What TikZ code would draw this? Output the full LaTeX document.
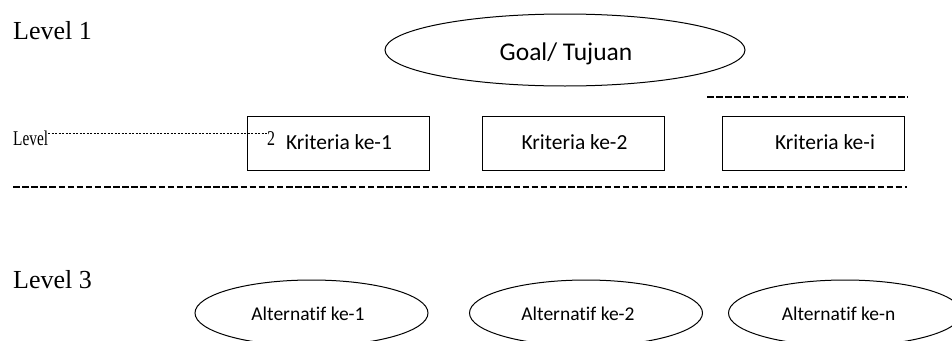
\documentclass[tikz,border=0pt]{standalone}
\usepackage{fontspec}
\usepackage{graphicx}
\setmainfont{Liberation Serif}
\newfontfamily\calib[Ligatures=NoCommon]{Carlito}
\usetikzlibrary{shapes.geometric}
\tikzset{
  lvltext/.style={inner sep=0pt, anchor=base west, font=\fontsize{26}{30}\selectfont},
  critbox/.style={draw, line width=1pt, minimum width=182pt, minimum height=54pt, inner sep=0pt},
  crittext/.style={inner sep=0pt, anchor=base, font=\calib\fontsize{21.5}{24}\selectfont},
  goalell/.style={draw, ellipse, line width=1pt, minimum width=360pt, minimum height=72pt, inner sep=0pt},
  altell/.style={draw, ellipse, line width=1pt, minimum width=233pt, minimum height=66pt, inner sep=0pt},
  alttext/.style={inner sep=0pt, anchor=base, font=\calib\fontsize{19.5}{22}\selectfont},
  bigdash/.style={line width=1.3pt, dash pattern=on 6.5pt off 2.6pt},
  finedash/.style={line width=0.7pt, dash pattern=on 2.4pt off 1.1pt}
}
\begin{document}
\begin{tikzpicture}[x=1pt,y=-1pt]
\useasboundingbox (0,0) rectangle (952,340);
\clip (0,0) rectangle (952,340);
% Level labels
\node[lvltext] (lv1) at (13,39) {Level 1};
\node[lvltext] (lv3) at (13,288) {Level 3};
\node[inner sep=0pt, anchor=base west, font=\fontsize{21}{24}\selectfont] (lv2) at (13,145) {\scalebox{0.73}[1]{Level}};
\node[inner sep=0pt, anchor=base west, font=\fontsize{21}{24}\selectfont] (two) at (267,145) {\scalebox{0.76}[1]{2}};
% Goal
\node[goalell] (goal) at (565,50) {};
\node[inner sep=0pt, anchor=base, font=\calib\fontsize{25.5}{28}\selectfont] (goaltxt) at (566,60) {Goal/ Tujuan};
% Criteria boxes
\node[critbox] (k1) at (338,143) {};
\node[critbox] (k2) at (573.5,143) {};
\node[critbox] (k3) at (813,143) {};
\node[crittext] (k1t) at (339,149) {Kriteria ke-1};
\node[crittext] (k2t) at (574.5,149) {Kriteria ke-2};
\node[crittext] (k3t) at (825,149) {Kriteria ke-i};
% dashed lines
\coordinate (la) at (48,133);
\coordinate (lb) at (267,133);
\draw[finedash] (la) -- (lb);
\coordinate (ta) at (707,97);
\coordinate (tb) at (908,97);
\draw[bigdash] (ta) -- (tb);
\coordinate (ba) at (13,187);
\coordinate (bb) at (907,187);
\draw[bigdash] (ba) -- (bb);
% Alternatives
\node[altell] (a1) at (311.5,313) {};
\node[altell] (a2) at (586,313) {};
\node[altell] (a3) at (845,313) {};
\node[alttext] (a1t) at (308,320) {Alternatif ke-1};
\node[alttext] (a2t) at (578,320) {Alternatif ke-2};
\node[alttext] (a3t) at (838.5,320) {Alternatif ke-n};
\end{tikzpicture}
\end{document}
